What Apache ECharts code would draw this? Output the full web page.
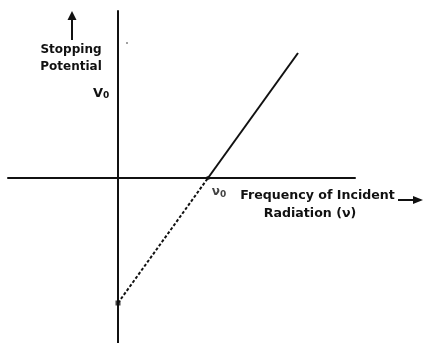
<!DOCTYPE html>
<html>
<head>
<meta charset="utf-8">
<script src="https://cdn.jsdelivr.net/npm/echarts@6/dist/echarts.min.js"></script>
<style>
  html, body { margin: 0; padding: 0; background: #fff; }
  #chart { width: 425px; height: 343px; }
</style>
</head>
<body>
<div id="chart"></div>
<script>
// Stopping potential vs. frequency (photoelectric effect), in units of
// threshold frequency (x) and work-function potential (y).
const belowAxis = [[0, -1], [1, 0]];   // extrapolated part, drawn dotted
const aboveAxis = [[1, 0], [2, 1]];    // measured part, drawn solid
const thresholdPoint = [[1, 0]];
const interceptPoint = [[0, -1]];

const xRange = [-1.2222, 2.6333];
const yRange = [-1.32, 1.336];

const FONT = 'DejaVu Sans';
const INK = '#111';

const chart = echarts.init(document.getElementById('chart'), null, { renderer: 'canvas' });

const hiddenAxis = {
  axisTick: { show: false },
  axisLabel: { show: false },
  splitLine: { show: false },
  axisLine: { show: true, onZero: true, lineStyle: { color: INK, width: 2 } }
};

function caption(text, x, y, size) {
  return {
    type: 'text', x: x, y: y,
    style: {
      text: text, font: 'bold ' + size + 'px ' + FONT, fill: INK,
      align: 'center', verticalAlign: 'middle'
    }
  };
}

chart.setOption({
  animation: false,
  backgroundColor: '#fff',
  grid: { left: 8, top: 11, width: 347, height: 332 },
  xAxis: Object.assign({ type: 'value', min: xRange[0], max: xRange[1] }, hiddenAxis),
  yAxis: Object.assign({ type: 'value', min: yRange[0], max: yRange[1] }, hiddenAxis),
  series: [
    {
      type: 'line', data: belowAxis, symbol: 'none',
      lineStyle: { color: INK, width: 2, type: [3, 2] }
    },
    {
      type: 'line', data: aboveAxis, symbol: 'none',
      lineStyle: { color: INK, width: 2 }
    },
    {
      type: 'scatter', data: interceptPoint, symbol: 'rect', symbolSize: 5,
      itemStyle: { color: INK }
    },
    {
      type: 'scatter', data: thresholdPoint, symbol: 'circle', symbolSize: 4,
      itemStyle: { color: INK },
      label: {
        show: true, position: 'bottom', offset: [11, 0],
        formatter: '{a|ν}{b|0}',
        rich: {
          a: { fontFamily: FONT, fontSize: 12, fontWeight: 'bold', color: INK },
          b: { fontFamily: FONT, fontSize: 9, fontWeight: 'bold', color: INK, padding: [5, 0, 0, 0] }
        }
      }
    }
  ],
  graphic: [
    // y-axis caption with up arrow
    { type: 'line', shape: { x1: 72, y1: 40, x2: 72, y2: 18 }, style: { stroke: INK, lineWidth: 2 } },
    { type: 'polygon', shape: { points: [[72, 11], [67.5, 20], [76.5, 20]] }, style: { fill: INK } },
    caption('Stopping', 71, 50, 12),
    caption('Potential', 71, 67, 12),
    {
      type: 'text', left: 93, top: 87,
      style: {
        text: '{a|V}{b|0}', fill: INK,
        rich: {
          a: { font: 'bold 13px ' + FONT, fill: INK },
          b: { font: 'bold 9px ' + FONT, fill: INK, padding: [5, 0, 0, 0] }
        }
      }
    },
    { type: 'line', shape: { x1: 126, y1: 43, x2: 128, y2: 43 }, style: { stroke: '#444', lineWidth: 1 } },
    // x-axis caption with right arrow
    caption('Frequency of Incident', 317.5, 196, 12.6),
    caption('Radiation (ν)', 310, 214, 12.6),
    { type: 'line', shape: { x1: 398, y1: 200, x2: 414, y2: 200 }, style: { stroke: INK, lineWidth: 2 } },
    { type: 'polygon', shape: { points: [[423, 200], [413, 196], [413, 204]] }, style: { fill: INK } }
  ]
});
</script>
</body>
</html>
